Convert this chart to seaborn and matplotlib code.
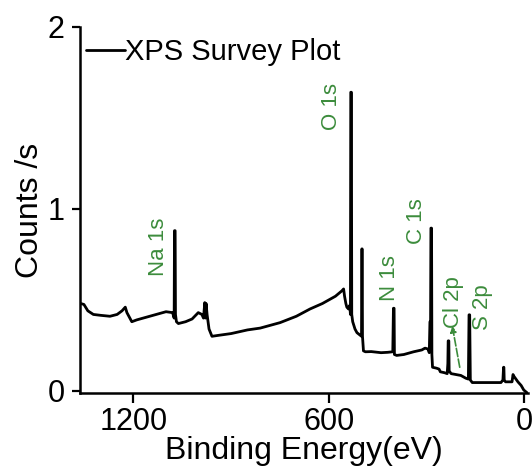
import matplotlib
matplotlib.use("Agg")
import matplotlib.pyplot as plt
import seaborn as sns
import pandas as pd

# Binding energy (eV) and counts
binding_energy = [1362, 1352, 1340, 1323, 1300, 1272, 1250, 1235, 1225, 1220, 1205, 1190, 1160, 1130,
                  1100, 1080, 1075, 1074, 1072, 1071, 1068, 1062, 1040, 1020, 1001, 990, 985, 981, 979,
                  977, 974, 968, 959, 940, 900, 850, 811, 750, 700, 658, 620, 580, 560, 555, 552, 548,
                  545, 540, 536, 534, 533, 531, 530, 527, 520, 514, 507, 500, 499, 498, 497, 494, 488,
                  470, 440, 420, 404, 402, 400, 399, 392, 370, 340, 315, 305, 296, 292, 290, 288, 287,
                  285, 284, 282, 270, 262, 258, 245, 237, 235, 234, 232, 231, 225, 210, 195, 180, 172,
                  170, 168, 166, 160, 140, 100, 72, 66, 64, 63, 62, 58, 45, 38, 35, 32, 28, 20, 10, 2, -8]
counts = [0.48, 0.475, 0.44, 0.42, 0.415, 0.41, 0.42, 0.44, 0.46, 0.43, 0.38, 0.39, 0.405, 0.42,
          0.435, 0.43, 0.40, 0.88, 0.88, 0.42, 0.38, 0.37, 0.38, 0.395, 0.43, 0.42, 0.40, 0.485, 0.40,
          0.48, 0.42, 0.34, 0.30, 0.305, 0.315, 0.335, 0.345, 0.375, 0.41, 0.45, 0.48, 0.52, 0.55, 0.56,
          0.52, 0.48, 0.46, 0.45, 0.47, 0.42, 1.64, 1.64, 0.42, 0.38, 0.34, 0.32, 0.31, 0.30, 0.78, 0.78,
          0.30, 0.22, 0.215, 0.216, 0.21, 0.212, 0.215, 0.454, 0.454, 0.20, 0.195, 0.20, 0.215, 0.225,
          0.235, 0.23, 0.21, 0.38, 0.38, 0.894, 0.894, 0.20, 0.13, 0.125, 0.12, 0.105, 0.10, 0.095, 0.15,
          0.275, 0.275, 0.11, 0.095, 0.09, 0.085, 0.07, 0.065, 0.418, 0.418, 0.06, 0.046, 0.046, 0.046,
          0.046, 0.06, 0.13, 0.13, 0.06, 0.05, 0.05, 0.05, 0.09, 0.08, 0.07, 0.05, 0.03, 0.005, -0.01]

peak_labels = ["Na 1s", "O 1s", "N 1s", "C 1s", "Cl 2p", "S 2p"]
label_x = [1124, 593, 415, 332, 217, 130]
label_y = [0.79, 1.56, 0.62, 0.93, 0.49, 0.46]

x_ticks = [1200, 600, 0]
y_ticks = [0, 1, 2]

sns.set_theme(style="ticks")
plt.rcParams["font.family"] = ["Liberation Sans", "DejaVu Sans"]
plt.rcParams.update({"text.color": "black", "axes.labelcolor": "black",
                     "xtick.color": "black", "ytick.color": "black",
                     "xtick.labelcolor": "black", "ytick.labelcolor": "black"})

df = pd.DataFrame({"Binding Energy": binding_energy, "Counts": counts})

fig = plt.figure(figsize=(5.32, 4.72), dpi=100)
ax = fig.add_axes([80 / 532, 1 - 393.3 / 472, (528 - 80) / 532, (393.3 - 26.7) / 472])

sns.lineplot(data=df, x="Binding Energy", y="Counts", ax=ax, color="black", lw=2.0,
             estimator=None, sort=False, label="XPS Survey Plot")

green = "#3c8c3c"
for t, xv, yv in zip(peak_labels, label_x, label_y):
    ax.text(xv, yv, t, rotation=90, color=green, fontsize=16, ha="center", va="center")

ax.annotate("", xy=(223, 0.372), xytext=(197, 0.115),
            arrowprops=dict(arrowstyle="-|>", color=green, lw=1.2, linestyle=(0, (5, 1.5)),
                            mutation_scale=9))

ax.set_xlim(1364, -11)
ax.set_ylim(-0.013, 2.0)
ax.set_xticks(x_ticks)
ax.set_yticks(y_ticks)
ax.set_xlabel("Binding Energy(eV)", fontsize=23, labelpad=-1)
ax.set_ylabel("Counts /s", fontsize=23, labelpad=2)
ax.tick_params(axis="both", labelsize=22, width=1.6, direction="out", color="black",
               labelcolor="black")
ax.tick_params(axis="x", length=7, pad=3)
ax.tick_params(axis="y", length=6, pad=5)
for s in ["top", "right"]:
    ax.spines[s].set_visible(False)
for s in ["left", "bottom"]:
    ax.spines[s].set_linewidth(1.8)
    ax.spines[s].set_color("black")

leg = ax.legend(loc="upper left", bbox_to_anchor=(0.0, 0.985), frameon=False, fontsize=21,
                handlelength=1.35, handletextpad=0.0, borderpad=0.2, borderaxespad=0.0)
for txt in leg.get_texts():
    txt.set_color("black")

fig.savefig("out.png", dpi=100)
